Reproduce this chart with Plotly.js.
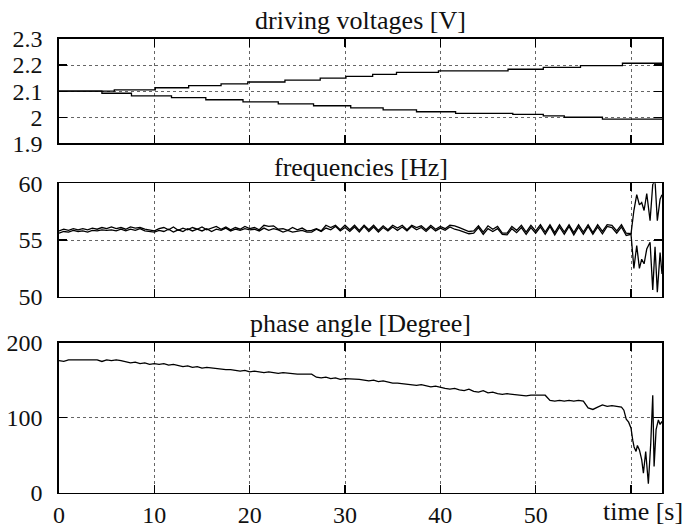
<!DOCTYPE html>
<html>
<head>
<meta charset="utf-8">
<script src="https://cdn.plot.ly/plotly-3.0.1.min.js"></script>
<style>
html,body{margin:0;padding:0;background:#fff;}
#chart{width:686px;height:527px;}
#chart svg text{font-family:"Liberation Serif","Times New Roman","DejaVu Serif",serif !important;}
</style>
</head>
<body>
<div id="chart"></div>
<script>
// ---------- driving voltages [V] (step changes) ----------
const voltUpT = [0, 5.8, 10.1, 13.6, 17.0, 19.8, 23.7, 27.4, 30.1, 32.9, 35.4, 39.8, 47.1, 50.8, 54.7, 59.1, 63.25];
const voltUpV = [2.100, 2.105, 2.113, 2.121, 2.128, 2.135, 2.142, 2.150, 2.157, 2.164, 2.172, 2.178, 2.184, 2.191, 2.198, 2.207, 2.207];
const voltLoT = [0, 4.5, 7.6, 11.8, 15.4, 19.3, 23.0, 26.7, 30.6, 34.0, 37.5, 41.6, 47.6, 50.8, 53.0, 57.0, 63.25];
const voltLoV = [2.100, 2.092, 2.082, 2.075, 2.067, 2.059, 2.051, 2.044, 2.036, 2.028, 2.021, 2.015, 2.011, 2.005, 2.000, 1.993, 1.993];

// ---------- frequencies [Hz] ----------
const freqT = [0,0.5,1,1.5,2,2.5,3,3.5,4,4.5,5,5.5,6,6.5,7,7.5,8,8.5,9,9.5,10,
  10.5,11,11.5,12,12.5,13,13.5,14,14.5,15,15.5,16,16.5,17,17.5,18,18.5,19,19.5,20,
  20.5,21,21.5,22,22.5,23,23.5,24,24.5,25,25.5,26,26.5,27,27.5,28,28.5,29,29.5,30,
  30.5,31,31.5,32,32.5,33,33.5,34,34.5,35,35.5,36,36.5,37,37.5,38,38.5,39,39.5,40,
  40.5,41,41.5,42,42.5,43,43.5,44,44.5,45,45.5,46,46.5,47,47.5,48,48.5,49,49.5,50,
  50.5,51,51.5,52,52.5,53,53.5,54,54.5,55,55.5,56,56.5,57,57.5,58,58.5,59,59.5,60,
  60.3,60.6,60.88,61.12,61.37,61.65,62.0,62.28,62.52,62.76,63.05,63.25];
const freqA = [55.8,55.95,55.85,56.0,55.9,56.0,55.9,56.05,55.95,56.1,56.0,56.15,56.0,56.1,55.95,56.15,56.05,56.1,55.95,55.9,55.8,
  56.0,56.1,55.9,56.15,55.85,56.05,55.9,56.1,55.95,56.15,55.9,56.05,56.2,55.95,56.15,55.9,56.1,55.95,56.2,56.0,
  56.1,55.9,56.3,56.2,56.25,55.95,56.0,55.85,56.1,55.9,56.05,55.8,55.85,56.0,55.8,56.3,56.1,56.3,55.9,56.3,
  55.9,56.3,55.85,56.3,55.9,56.3,55.85,56.25,55.9,56.3,56.05,56.3,55.9,56.3,56.1,56.25,55.9,56.3,55.95,56.2,
  56.0,56.3,56.25,56.1,55.9,55.75,55.8,56.25,55.7,56.25,55.95,56.2,55.6,55.6,56.2,55.85,56.3,55.7,56.3,55.8,
  56.35,55.7,56.35,55.65,56.35,55.7,56.35,55.65,56.35,55.7,56.35,55.65,56.35,55.75,56.35,56.3,55.8,56.35,55.6,55.55,
  57.6,59.0,58.1,58.3,57.6,59.1,56.7,59.9,60.2,56.7,58.6,59.0];
const freqB = [55.6,55.75,55.7,55.85,55.75,55.8,55.7,55.85,55.8,55.9,55.85,55.9,55.8,55.95,55.8,55.95,55.85,56.0,55.8,55.75,55.7,
  55.85,55.75,55.95,55.7,55.9,55.75,56.0,55.8,55.95,55.8,56.0,55.75,55.95,55.85,56.05,55.8,55.95,55.85,56.0,55.9,
  55.95,55.8,56.05,55.85,56.0,55.9,55.7,55.85,55.7,55.75,55.85,55.7,55.7,55.95,55.75,56.05,55.9,56.2,55.8,56.1,
  55.75,56.15,55.7,56.2,55.75,56.15,55.7,56.1,55.8,56.15,55.85,56.15,55.8,56.2,55.9,56.1,55.75,56.15,55.8,56.05,
  55.85,56.15,55.95,55.85,55.7,55.55,55.6,56.1,55.5,56.0,55.75,56.0,55.5,55.45,56.0,55.65,56.1,55.5,56.1,55.6,
  56.15,55.5,56.2,55.45,56.15,55.5,56.2,55.45,56.15,55.5,56.2,55.5,56.15,55.55,56.2,56.1,55.6,56.15,55.4,55.5,
  52.5,54.5,52.5,53.3,52.9,54.2,54.8,50.6,54.4,50.4,53.9,52.0];

// ---------- phase angle [Degree] ----------
const phaseT = [0,0.5,1,1.5,2,2.5,3,3.5,4,4.5,5,
  5.5,6,6.5,7,7.5,8,8.5,9,9.5,10,
  10.5,11,11.5,12,12.5,13,13.5,14,14.5,15,
  15.5,16,16.5,17,17.5,18,18.5,19,19.5,20,
  20.5,21,21.5,22,22.5,23,23.5,24,24.5,25,
  25.5,26,26.5,27,27.5,28,28.5,29,29.5,30,
  30.5,31,31.5,32,32.5,33,33.5,34,34.5,35,
  35.5,36,36.5,37,37.5,38,38.5,39,39.5,40,
  40.5,41,41.5,42,42.5,43,43.5,44,44.5,45,
  45.5,46,46.5,47,47.5,48,48.5,49,49.5,50,
  50.5,51,51.5,52,52.5,53,53.5,54,54.5,55,
  55.5,56,56.5,57,57.5,58,58.5,59,
  59.25,59.5,59.75,60.0,60.18,60.32,60.53,60.67,60.88,61.12,61.30,61.54,61.82,62.07,62.28,62.42,62.63,62.87,63.05,63.25];
const phaseV = [176,175,177,177,177,176,177,176,177,175,177,
  176,177,176,174,173,174,172,173,171,172,
  171,172,170,171,169,168,169,167,168,166,
  167,166,165,165,164,164,163,162,163,161,
  162,161,160,161,160,159,160,159,158,158,
  158,158,158,154,153,154,152,153,151,152,
  152,152,151,150,149,150,148,149,147,146,
  146,145,145,144,143,144,142,141,142,140,
  139,138,139,137,136,138,135,134,136,133,
  134,132,131,132,131,130,130,129,130,130,
  131,130,123,122,123,122,123,122,123,122,
  113,111,114,117,115,116,115,114,
  110,98,94,86,70,61,55,63,57,44,26,55,12,66,130,35,84,97,91,95];

const xTicks = [0,10,20,30,40,50,60];
const xTickText = ['0','10','20','30','40','50',''];
const y1Ticks = [1.9,2.0,2.1,2.2,2.3];
const y1Text = ['1.9','2','2.1','2.2','2.3'];
const y2Ticks = [50,55,60];
const y3Ticks = [0,100,200];
const titles = ['driving voltages [V]','frequencies [Hz]','phase angle [Degree]'];

const FONT = 'Liberation Serif, Times New Roman, DejaVu Serif, serif';
const lineStyle = {color:'#000', width:1.3};

const traces = [
  {x:voltUpT, y:voltUpV, mode:'lines', line:Object.assign({shape:'hv'}, lineStyle), xaxis:'x', yaxis:'y'},
  {x:voltLoT, y:voltLoV, mode:'lines', line:Object.assign({shape:'hv'}, lineStyle), xaxis:'x', yaxis:'y'},
  {x:freqT, y:freqA, mode:'lines', line:lineStyle, xaxis:'x2', yaxis:'y2'},
  {x:freqT, y:freqB, mode:'lines', line:lineStyle, xaxis:'x2', yaxis:'y2'},
  {x:phaseT, y:phaseV, mode:'lines', line:lineStyle, xaxis:'x3', yaxis:'y3'}
];

function xAx(anchor, labels){
  return {domain:[59/686, 662/686], range:[0,63.25], anchor:anchor,
    tickmode:'array', tickvals:xTicks, ticktext:xTickText, showticklabels:labels,
    ticks:'inside', ticklen:8, tickwidth:1.2, tickcolor:'#000', mirror:'ticks',
    showline:true, linecolor:'#000', linewidth:1.6,
    showgrid:true, gridcolor:'#666', griddash:'dot', gridwidth:1, zeroline:false,
    tickfont:{family:FONT, size:24, color:'#111'}, ticklabelstandoff:0};
}
function yAx(anchor, dom, range, vals, text){
  return {domain:dom, range:range, anchor:anchor,
    tickmode:'array', tickvals:vals, ticktext:text,
    ticks:'inside', ticklen:8, tickwidth:1.2, tickcolor:'#000', mirror:'ticks',
    showline:true, linecolor:'#000', linewidth:1.6,
    showgrid:true, gridcolor:'#666', griddash:'dot', gridwidth:1, zeroline:false,
    tickfont:{family:FONT, size:24, color:'#111'}, ticklabelstandoff:10};
}

const layout = {
  width:686, height:527, margin:{l:0,r:0,t:0,b:0},
  paper_bgcolor:'#fff', plot_bgcolor:'#fff', showlegend:false,
  font:{family:FONT, color:'#111'},
  xaxis: xAx('y', false),
  xaxis2: Object.assign(xAx('y2', false), {matches:'x'}),
  xaxis3: Object.assign(xAx('y3', true), {matches:'x'}),
  yaxis: yAx('x', [1-143.3/527, 1-39/527], [1.9,2.3], y1Ticks, y1Text),
  yaxis2: yAx('x2', [1-296.7/527, 1-183.3/527], [50,60], y2Ticks, y2Ticks.map(String)),
  yaxis3: yAx('x3', [1-492.7/527, 1-342.7/527], [0,200], y3Ticks, y3Ticks.map(String)),
  annotations: [
    {text:titles[0], xref:'paper', yref:'paper', x:360.5/686, y:1-20.5/527, xanchor:'center', yanchor:'middle', showarrow:false, font:{family:FONT, size:26, color:'#111'}},
    {text:titles[1], xref:'paper', yref:'paper', x:360.5/686, y:1-167/527, xanchor:'center', yanchor:'middle', showarrow:false, font:{family:FONT, size:26, color:'#111'}},
    {text:titles[2], xref:'paper', yref:'paper', x:360.5/686, y:1-323/527, xanchor:'center', yanchor:'middle', showarrow:false, font:{family:FONT, size:26, color:'#111'}},
    {text:'time [s]', xref:'paper', yref:'paper', x:643/686, y:1-511/527, xanchor:'center', yanchor:'middle', showarrow:false, font:{family:FONT, size:26, color:'#111'}}
  ]
};

Plotly.newPlot('chart', traces, layout, {staticPlot:true, displayModeBar:false});
</script>
</body>
</html>
